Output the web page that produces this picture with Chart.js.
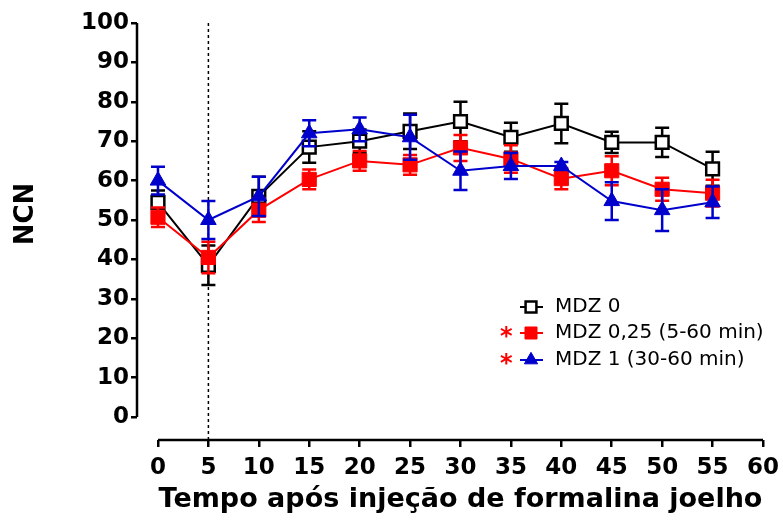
<!DOCTYPE html>
<html>
<head>
<meta charset="utf-8">
<script src="https://cdn.jsdelivr.net/npm/chart.js@4/dist/chart.umd.min.js"></script>
<style>body{margin:0;background:#fff}</style>
</head>
<body>
<canvas id="chart" width="783" height="522"></canvas>
<script>
// time points (min)
const times = [0, 5, 10, 15, 20, 25, 30, 35, 40, 45, 50, 55];

// MDZ 0
const mdz0 = [54.5, 38.5, 56, 68.5, 70, 72.5, 75, 71, 74.5, 69.7, 69.7, 63];
const mdz0Err = [3, 5, 5, 4, 3, 4.5, 5, 3.7, 5, 2.7, 3.7, 4.3];

// MDZ 0,25
const mdz025 = [50.7, 40.5, 52.5, 60.3, 65, 64, 68.3, 65.5, 60.5, 62.5, 57.8, 56.8];
const mdz025Err = [2.5, 4, 3, 2.5, 2.5, 2.5, 3.3, 3.5, 2.7, 3.7, 2.9, 3.4];

// MDZ 1
const mdz1 = [60, 50, 56, 72, 73, 71, 62.5, 63.7, 63.7, 54.8, 52.5, 54.5];
const mdz1Err = [3.5, 4.8, 5, 3.3, 3, 5.7, 4.9, 3.3, 1, 4.8, 5.3, 4];

const xTicks = [0, 5, 10, 15, 20, 25, 30, 35, 40, 45, 50, 55, 60];
const yTicks = [0, 10, 20, 30, 40, 50, 60, 70, 80, 90, 100];
const legendLabels = ['MDZ 0', 'MDZ 0,25 (5-60 min)', 'MDZ 1 (30-60 min)'];
const xTitle = 'Tempo após injeção de formalina joelho';
const yTitle = 'NCN';

const family = "'DejaVu Sans', 'Liberation Sans', sans-serif";
const toPoints = (vals) => times.map((t, i) => ({ x: t, y: vals[i] }));

// error bars drawn under each dataset's line and markers
const errorBars = {
  id: 'errorBars',
  beforeDatasetDraw(chart, args) {
    const ds = chart.data.datasets[args.index];
    const y = chart.scales.y;
    const ctx = chart.ctx;
    ctx.save();
    ctx.strokeStyle = ds.borderColor;
    ctx.lineWidth = 2.5;
    args.meta.data.forEach((pt, i) => {
      const v = ds.data[i].y, e = ds.err[i];
      const top = y.getPixelForValue(v + e), bot = y.getPixelForValue(v - e);
      ctx.beginPath();
      ctx.moveTo(pt.x, top); ctx.lineTo(pt.x, bot);
      ctx.moveTo(pt.x - 7, top); ctx.lineTo(pt.x + 7, top);
      ctx.moveTo(pt.x - 7, bot); ctx.lineTo(pt.x + 7, bot);
      ctx.stroke();
    });
    ctx.restore();
  }
};

// detached axes, dotted line at 5 min, axis titles and legend
const frame = {
  id: 'frame',
  beforeDatasetsDraw(chart) {
    const { ctx, scales: { x, y } } = chart;
    ctx.save();
    ctx.strokeStyle = '#000';
    ctx.lineWidth = 2.5;
    ctx.beginPath();
    ctx.moveTo(chart.chartArea.left, y.getPixelForValue(0));
    ctx.lineTo(chart.chartArea.left, y.getPixelForValue(100));
    ctx.moveTo(x.getPixelForValue(0), chart.chartArea.bottom);
    ctx.lineTo(x.getPixelForValue(60), chart.chartArea.bottom);
    ctx.stroke();
    ctx.lineWidth = 1.5;
    ctx.setLineDash([3, 3]);
    ctx.beginPath();
    ctx.moveTo(x.getPixelForValue(5), y.getPixelForValue(100));
    ctx.lineTo(x.getPixelForValue(5), chart.chartArea.bottom);
    ctx.stroke();
    ctx.setLineDash([]);

    // axis titles
    ctx.fillStyle = '#000';
    ctx.textAlign = 'center';
    ctx.textBaseline = 'middle';
    ctx.font = 'bold 27px ' + family;
    ctx.fillText(xTitle, (x.getPixelForValue(0) + x.getPixelForValue(60)) / 2, 500);
    ctx.save();
    ctx.translate(26, 214);
    ctx.rotate(-Math.PI / 2);
    ctx.font = 'bold 26px ' + family;
    ctx.fillText(yTitle, 0, 0);
    ctx.restore();
    ctx.restore();
  },
  afterDraw(chart) {
    const ctx = chart.ctx;
    const rows = [307, 333, 360];
    ctx.save();
    chart.data.datasets.forEach((ds, i) => {
      const cy = rows[i];
      ctx.strokeStyle = ds.borderColor;
      ctx.lineWidth = 2;
      ctx.beginPath();
      ctx.moveTo(520, cy); ctx.lineTo(543, cy);
      ctx.stroke();
      ctx.fillStyle = ds.pointBackgroundColor;
      ctx.strokeStyle = ds.pointBorderColor;
      ctx.lineWidth = ds.pointBorderWidth;
      Chart.helpers.drawPoint(ctx, {
        pointStyle: ds.pointStyle, radius: ds.pointRadius * 0.85, borderWidth: ds.pointBorderWidth
      }, 531, cy);
      ctx.fillStyle = '#000';
      ctx.font = '20px ' + family;
      ctx.textAlign = 'left';
      ctx.textBaseline = 'middle';
      ctx.fillText(legendLabels[i], 555, cy);
      if (i > 0) {
        ctx.fillStyle = '#ff0000';
        ctx.font = 'bold 24px ' + family;
        ctx.fillText('*', 500, cy + 5);
      }
    });
    ctx.restore();
  }
};

new Chart(document.getElementById('chart'), {
  type: 'line',
  data: {
    datasets: [
      {
        label: legendLabels[0], data: toPoints(mdz0), err: mdz0Err,
        borderColor: '#000000', backgroundColor: '#ffffff', pointBackgroundColor: '#ffffff',
        pointBorderColor: '#000000', pointStyle: 'rect', pointRadius: 9, pointBorderWidth: 2.5,
        borderWidth: 2, order: 3
      },
      {
        label: legendLabels[1], data: toPoints(mdz025), err: mdz025Err,
        borderColor: '#ff0000', backgroundColor: '#ff0000', pointBackgroundColor: '#ff0000',
        pointBorderColor: '#ff0000', pointStyle: 'rect', pointRadius: 10, pointBorderWidth: 1,
        borderWidth: 2, order: 2
      },
      {
        label: legendLabels[2], data: toPoints(mdz1), err: mdz1Err,
        borderColor: '#0000cc', backgroundColor: '#0000cc', pointBackgroundColor: '#0000cc',
        pointBorderColor: '#0000cc', pointStyle: 'triangle', pointRadius: 9, pointBorderWidth: 1,
        borderWidth: 2, order: 1
      }
    ]
  },
  options: {
    responsive: false,
    animation: false,
    layout: { padding: { top: 23, right: 20, left: 0, bottom: 0 } },
    plugins: { legend: { display: false }, tooltip: { enabled: false } },
    scales: {
      x: {
        type: 'linear', min: -2.08, max: 60,
        afterBuildTicks: (s) => { s.ticks = xTicks.map(v => ({ value: v })); },
        afterFit: (s) => { s.height = 82; s.paddingRight = 0; },
        grid: { drawOnChartArea: false, tickLength: 7, lineWidth: 2.5, color: '#000' },
        border: { display: false },
        ticks: { color: '#000', padding: 7, maxRotation: 0, autoSkip: false,
                 font: { family, size: 23, weight: 'bold' } }
      },
      y: {
        min: -5.84, max: 100,
        afterBuildTicks: (s) => { s.ticks = yTicks.map(v => ({ value: v })); },
        afterFit: (s) => { s.width = 137; },
        grid: { drawOnChartArea: false, tickLength: 6, lineWidth: 2.5, color: '#000' },
        border: { display: false },
        ticks: { color: '#000', padding: 2, font: { family, size: 23, weight: 'bold' } }
      }
    }
  },
  plugins: [errorBars, frame]
});
</script>
</body>
</html>
